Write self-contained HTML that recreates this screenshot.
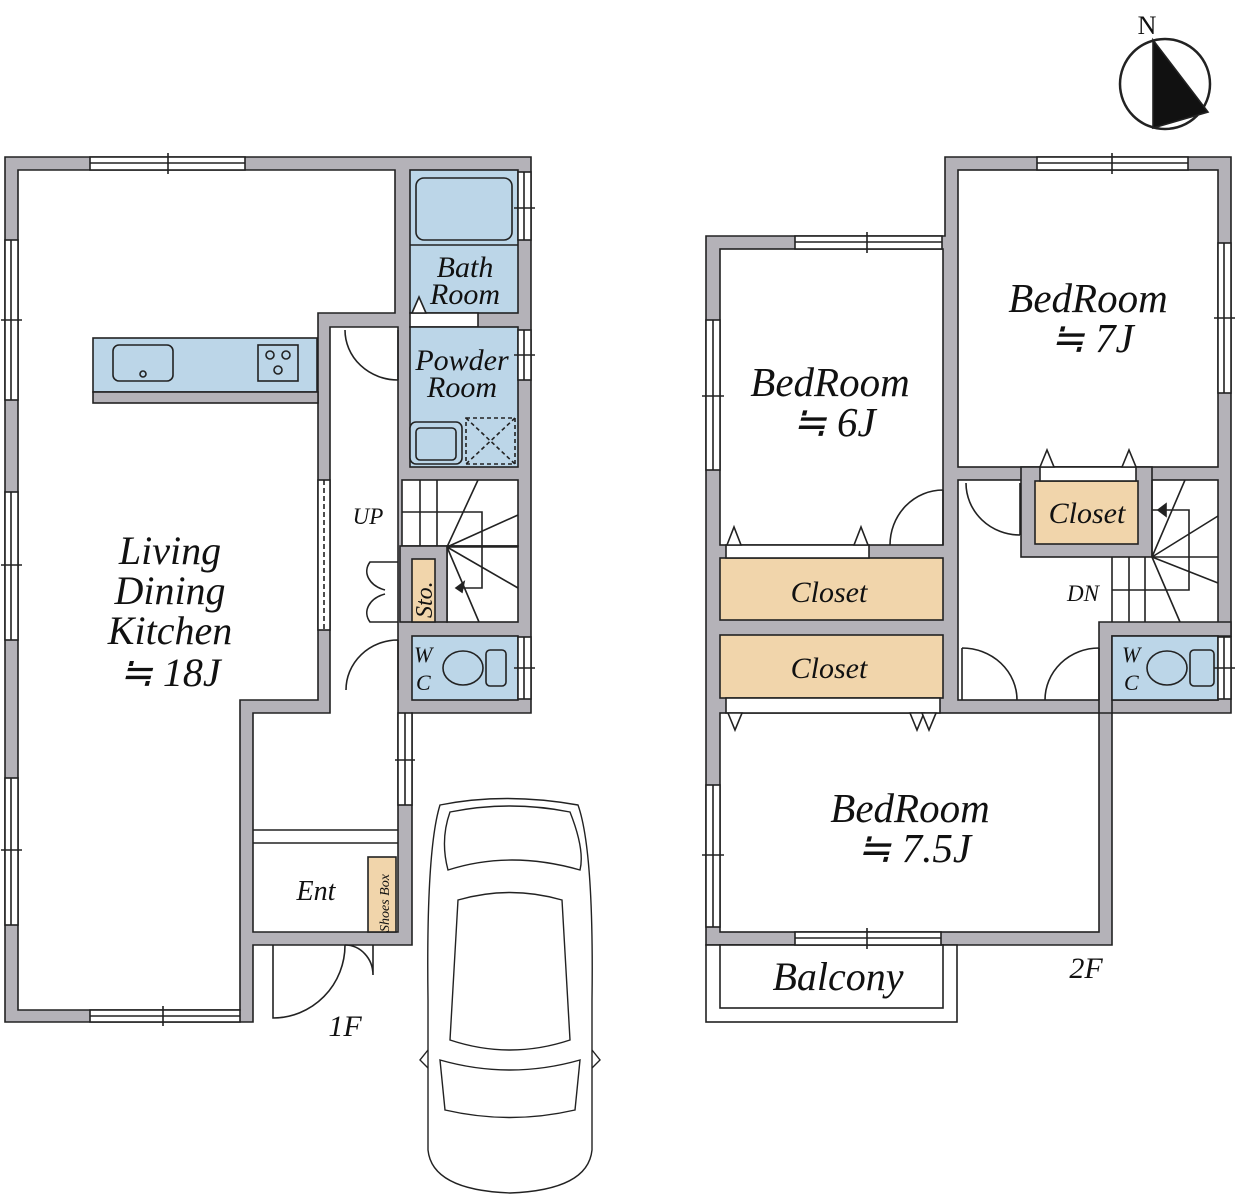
<!DOCTYPE html>
<html><head><meta charset="utf-8"><style>
html,body{margin:0;padding:0;background:#fff}
svg{display:block}
text{font-family:"Liberation Serif",serif;font-style:italic;fill:#111}
text.n{font-style:normal}
</style></head><body>
<svg width="1235" height="1200" viewBox="0 0 1235 1200" xmlns="http://www.w3.org/2000/svg">
<g stroke="#222" stroke-width="1.6">
<!-- ========== 1F ========== -->
<polygon points="5,157 531,157 531,713 412,713 412,945 253,945 253,1022 5,1022" fill="#b4b2b8"/>
<polygon points="18,170 395,170 395,313 318,313 318,700 240,700 240,1010 18,1010" fill="#fff"/>
<polygon points="330,327 398,327 398,932 253,932 253,713 330,713" fill="#fff"/>
<line x1="253" y1="830" x2="398" y2="830"/><line x1="253" y1="843" x2="398" y2="843"/>
<rect x="410" y="170" width="108" height="143" fill="#bcd6e8"/>
<rect x="416" y="178" width="96" height="62" rx="8" fill="#bcd6e8"/>
<line x1="410" y1="245" x2="518" y2="245"/>
<rect x="410" y="313" width="68" height="14" fill="#fff"/>
<polygon points="412,313 419,297 426,313" fill="#fff"/>
<rect x="410" y="327" width="108" height="140" fill="#bcd6e8"/>
<rect x="410" y="422" width="52" height="42" rx="6" fill="#bcd6e8"/>
<rect x="416" y="428" width="40" height="32" rx="4" fill="#bcd6e8"/>
<rect x="466" y="418" width="49" height="46" fill="none" stroke-dasharray="4,3"/>
<path d="M466,418 L515,464 M515,418 L466,464" stroke-dasharray="4,3"/>
<rect x="402" y="480" width="116" height="66" fill="#fff"/>
<rect x="447" y="546" width="71" height="76" fill="#fff"/>
<rect x="400" y="546" width="47" height="76" fill="#b4b2b8"/>
<rect x="412" y="559" width="23" height="63" fill="#f1d5ab"/>
<path d="M420,480V546 M437,480V546 M402,512H447 M447,512H482V588H456 M447,547L478,480 M447,547L518,515 M447,547H518 M447,547L518,588 M447,547L479,622" fill="none"/>
<polygon points="456,588 464,582 462,592" fill="#222"/>
<rect x="412" y="636" width="106" height="64" fill="#bcd6e8"/>
<ellipse cx="463" cy="668" rx="20" ry="17" fill="#bcd6e8"/>
<rect x="486" y="650" width="20" height="36" rx="4" fill="#bcd6e8"/>
<rect x="93" y="338" width="224" height="54" fill="#bcd6e8"/>
<rect x="93" y="392" width="225" height="11" fill="#b4b2b8"/>
<rect x="113" y="345" width="60" height="36" rx="6" fill="#bcd6e8"/>
<circle cx="143" cy="374" r="3" fill="none"/>
<rect x="258" y="345" width="40" height="36" fill="#bcd6e8"/>
<circle cx="270" cy="355" r="4" fill="none"/><circle cx="286" cy="355" r="4" fill="none"/><circle cx="278" cy="370" r="4" fill="none"/>
<rect x="368" y="857" width="28" height="75" fill="#f1d5ab"/>
<g fill="#fff">
<rect x="90" y="157" width="155" height="13"/><line x1="90" y1="163" x2="245" y2="163"/><line x1="168" y1="153" x2="168" y2="174"/>
<rect x="90" y="1010" width="150" height="12"/><line x1="90" y1="1016" x2="240" y2="1016"/><line x1="163" y1="1006" x2="163" y2="1026"/>
<rect x="5" y="240" width="13" height="160"/><line x1="11" y1="240" x2="11" y2="400"/><line x1="1" y1="320" x2="22" y2="320"/>
<rect x="5" y="492" width="13" height="148"/><line x1="11" y1="492" x2="11" y2="640"/><line x1="1" y1="565" x2="22" y2="565"/>
<rect x="5" y="778" width="13" height="147"/><line x1="11" y1="778" x2="11" y2="925"/><line x1="1" y1="850" x2="22" y2="850"/>
<rect x="518" y="172" width="13" height="68"/><line x1="524" y1="172" x2="524" y2="240"/><line x1="514" y1="208" x2="535" y2="208"/>
<rect x="518" y="330" width="13" height="50"/><line x1="524" y1="330" x2="524" y2="380"/><line x1="514" y1="355" x2="535" y2="355"/>
<rect x="518" y="637" width="13" height="62"/><line x1="524" y1="637" x2="524" y2="699"/><line x1="514" y1="668" x2="535" y2="668"/>
<rect x="398" y="713" width="14" height="92"/><line x1="405" y1="713" x2="405" y2="805"/><line x1="395" y1="760" x2="415" y2="760"/>
<rect x="318" y="480" width="12" height="150"/><line x1="324" y1="480" x2="324" y2="630" stroke-dasharray="5,3"/>
</g>
<g fill="none">
<path d="M398,330 V380 M345,330 A53,50 0 0 0 398,380"/>
<path d="M398,690 V640 M346,690 A52,50 0 0 1 398,640"/>
<path d="M398,562 H370 A28,20 0 0 0 385,590 M398,622 H370 A28,20 0 0 1 385,594"/>
<path d="M273,945 V1018 A72,73 0 0 0 345,945"/>
<path d="M373,945 V975 M345,945 A28,30 0 0 1 373,975"/>
</g>

<!-- ========== 2F ========== -->
<polygon points="706,236 945,236 945,157 1231,157 1231,713 1112,713 1112,945 706,945" fill="#b4b2b8"/>
<rect x="706" y="945" width="251" height="77" fill="#fff"/>
<rect x="720" y="945" width="223" height="63" fill="#fff"/>
<rect x="720" y="249" width="223" height="296" fill="#fff"/>
<rect x="958" y="170" width="260" height="297" fill="#fff"/>
<rect x="958" y="480" width="260" height="220" fill="#fff"/>
<rect x="720" y="713" width="379" height="219" fill="#fff"/>
<rect x="720" y="558" width="223" height="62" fill="#f1d5ab"/>
<rect x="720" y="635" width="223" height="63" fill="#f1d5ab"/>
<rect x="1021" y="467" width="131" height="90" fill="#b4b2b8"/>
<rect x="1035" y="481" width="103" height="63" fill="#f1d5ab"/>
<rect x="1040" y="467" width="96" height="14" fill="#fff"/>
<polygon points="1040,467 1047,450 1054,467" fill="#fff"/><polygon points="1122,467 1129,450 1136,467" fill="#fff"/>
<rect x="726" y="545" width="143" height="13" fill="#fff"/>
<polygon points="727,545 734,527 741,545" fill="#fff"/><polygon points="854,545 861,527 868,545" fill="#fff"/>
<rect x="726" y="698" width="214" height="15" fill="#fff"/>
<polygon points="728,713 735,730 742,713" fill="#fff"/><polygon points="910,713 917,730 924,713" fill="#fff"/><polygon points="922,713 929,730 936,713" fill="#fff"/>
<path d="M1112,557V622 M1129,557V622 M1145,557V622 M1112,590H1152 M1152,480V557 M1152,510H1189V590H1152 M1152,557L1185,480 M1152,557L1218,516 M1152,557H1218 M1152,557L1218,583 M1152,557L1180,622" fill="none"/>
<polygon points="1158,510 1166,504 1166,516" fill="#222"/>
<polygon points="1099,622 1231,622 1231,636 1112,636 1112,713 1099,713" fill="#b4b2b8"/>
<rect x="1112" y="636" width="106" height="64" fill="#bcd6e8"/>
<ellipse cx="1167" cy="668" rx="20" ry="17" fill="#bcd6e8"/>
<rect x="1190" y="650" width="24" height="36" rx="4" fill="#bcd6e8"/>
<g fill="#fff">
<rect x="1037" y="157" width="151" height="13"/><line x1="1037" y1="163" x2="1188" y2="163"/><line x1="1112" y1="153" x2="1112" y2="174"/>
<rect x="795" y="236" width="147" height="13"/><line x1="795" y1="242" x2="942" y2="242"/><line x1="867" y1="232" x2="867" y2="253"/>
<rect x="795" y="932" width="146" height="13"/><line x1="795" y1="938" x2="941" y2="938"/><line x1="867" y1="928" x2="867" y2="949"/>
<rect x="706" y="320" width="14" height="150"/><line x1="713" y1="320" x2="713" y2="470"/><line x1="702" y1="396" x2="724" y2="396"/>
<rect x="706" y="785" width="14" height="142"/><line x1="713" y1="785" x2="713" y2="927"/><line x1="702" y1="855" x2="724" y2="855"/>
<rect x="1218" y="243" width="13" height="150"/><line x1="1224" y1="243" x2="1224" y2="393"/><line x1="1214" y1="318" x2="1235" y2="318"/>
<rect x="1218" y="637" width="13" height="62"/><line x1="1224" y1="637" x2="1224" y2="699"/><line x1="1214" y1="668" x2="1235" y2="668"/>
</g>
<g fill="none">
<path d="M943,490 V545 M890,545 A53,55 0 0 1 943,490"/>
<path d="M1020,483 V535 M966,483 A54,52 0 0 0 1020,535"/>
<path d="M962,648 V700 M962,648 A55,52 0 0 1 1017,700"/>
<path d="M1099,648 V700 M1045,700 A54,52 0 0 1 1099,648"/>
</g>

<g fill="#fff" stroke-width="1.4">
<path d="M440,805 Q505,792 578,805 Q594,850 592,1000 L592,1150 Q588,1190 510,1193 Q432,1190 428,1150 L428,1000 Q426,850 440,805 Z"/>
<path d="M450,812 Q510,800 570,812 Q585,850 580,870 Q510,850 448,870 Q440,840 450,812Z" fill="none"/>
<path d="M458,900 Q510,885 562,900 L570,1040 Q510,1060 450,1040 Z" fill="none"/>
<path d="M440,1060 Q510,1080 580,1060 L575,1110 Q510,1125 445,1110 Z" fill="none"/>
<path d="M428,1050 L420,1060 L428,1068 M592,1050 L600,1060 L592,1068" fill="none"/>
</g>

<circle cx="1165" cy="84" r="45" fill="#fff" stroke-width="2.5"/>
<polygon points="1153,40 1153,128 1208,112" fill="#111"/>
</g>

<text class="n" x="1147" y="34" font-size="26" text-anchor="middle">N</text>
<g text-anchor="middle">
<text x="465" y="277" font-size="30">Bath</text>
<text x="465" y="304" font-size="30">Room</text>
<text x="462" y="370" font-size="30">Powder</text>
<text x="462" y="397" font-size="30">Room</text>
<text x="170" y="564" font-size="40">Living</text>
<text x="170" y="604" font-size="40">Dining</text>
<text x="170" y="644" font-size="40">Kitchen</text>
<text x="170" y="686" font-size="40">≒ 18J</text>
<text x="368" y="524" font-size="23">UP</text>
<text x="316" y="900" font-size="28">Ent</text>
<text x="345" y="1036" font-size="30">1F</text>
<text x="1088" y="312" font-size="41">BedRoom</text>
<text x="1092" y="352" font-size="41">≒ 7J</text>
<text x="830" y="396" font-size="41">BedRoom</text>
<text x="834" y="436" font-size="41">≒ 6J</text>
<text x="910" y="822" font-size="41">BedRoom</text>
<text x="914" y="862" font-size="41">≒ 7.5J</text>
<text x="1087" y="523" font-size="30">Closet</text>
<text x="829" y="602" font-size="30">Closet</text>
<text x="829" y="678" font-size="30">Closet</text>
<text x="1083" y="601" font-size="23">DN</text>
<text x="838" y="990" font-size="40">Balcony</text>
<text x="1086" y="978" font-size="30">2F</text>
</g>
<text x="414" y="662" font-size="22">W</text><text x="416" y="690" font-size="22">C</text>
<text x="1122" y="662" font-size="22">W</text><text x="1124" y="690" font-size="22">C</text>
<text transform="translate(432,618) rotate(-90)" font-size="24">Sto.</text>
<text transform="translate(389,932) rotate(-90)" font-size="14">Shoes Box</text>
</svg>
</body></html>
